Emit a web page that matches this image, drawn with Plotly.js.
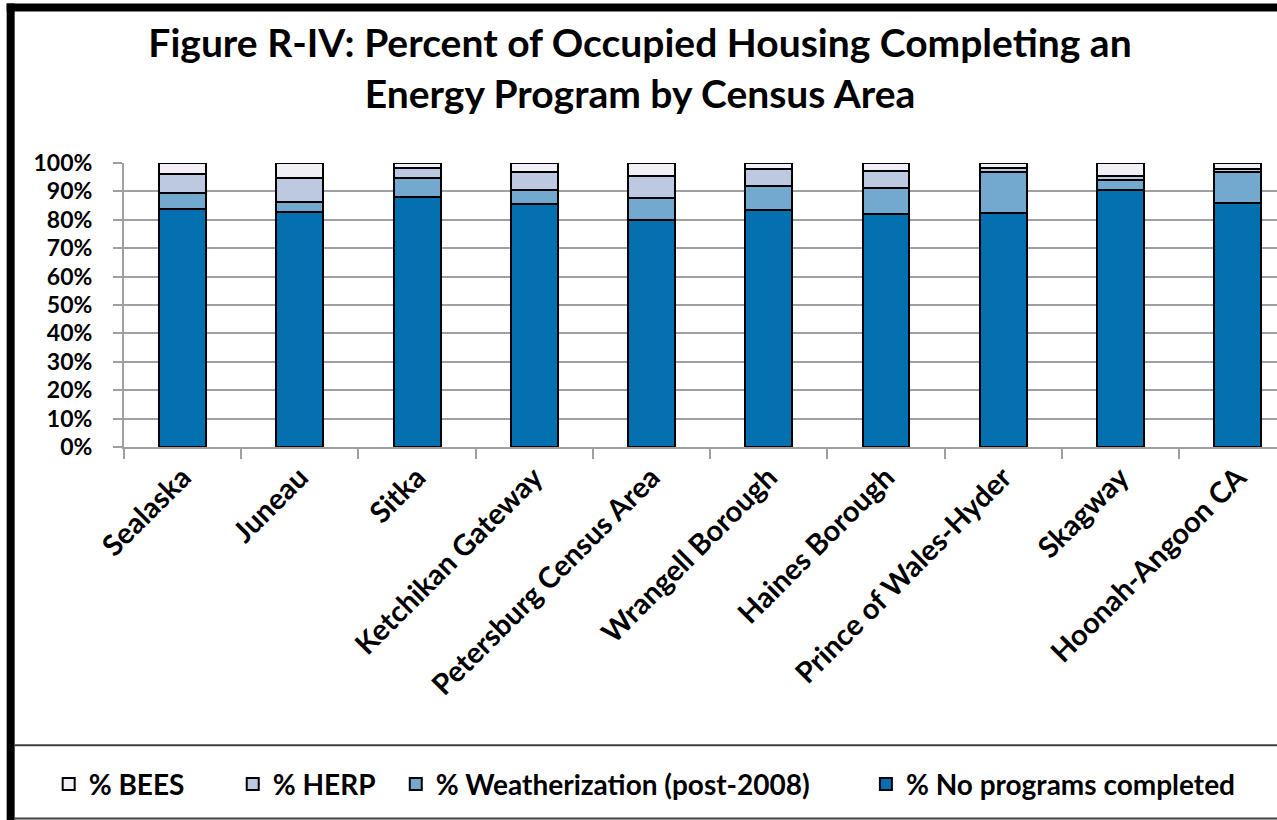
<!DOCTYPE html>
<html>
<head>
<meta charset="utf-8">
<script src="https://cdn.plot.ly/plotly-3.0.1.min.js"></script>
<style>
  html, body { margin: 0; padding: 0; background: #ffffff; }
  #chart { width: 1277px; height: 820px; }
</style>
</head>
<body>
<div id="chart"></div>
<script>
const categories = ["Sealaska", "Juneau", "Sitka", "Ketchikan Gateway", "Petersburg Census Area",
  "Wrangell Borough", "Haines Borough", "Prince of Wales-Hyder", "Skagway", "Hoonah-Angoon CA"];
const noPrograms = [83.7, 82.7, 88.1, 85.7, 79.8, 83.3, 82.1, 82.5, 90.6, 85.9];
const weatherization = [5.9, 3.6, 6.5, 4.8, 7.8, 8.6, 9.0, 14.5, 3.5, 10.9];
const herp = [6.6, 8.3, 3.8, 6.5, 8.0, 6.1, 6.1, 1.2, 1.2, 1.2];
const bees = [3.8, 5.4, 1.6, 3.0, 4.4, 2.0, 2.8, 1.8, 4.7, 2.0];
const yTickVals = [0, 10, 20, 30, 40, 50, 60, 70, 80, 90, 100];
const yTickText = ["0%", "10%", "20%", "30%", "40%", "50%", "60%", "70%", "80%", "90%", "100%"];

const FONT = "Lato, 'Open Sans', sans-serif";
// pixel geometry of the plot area
const W = 1277, H = 820;
const L = 124.3, T = 163.3, B = 447;
const catW = 117.2;
const px2x = p => (p - L) / (W - L);
const py2y = p => (B - p) / (B - T);

function bar(name, vals, color, legendId) {
  return {
    type: "bar", name: name, x: categories, y: vals,
    marker: { color: color, line: { color: "#000000", width: 2 } },
    width: 0.4, legend: legendId,
    hovertemplate: "%{x}: %{y:.1f}%<extra>" + name + "</extra>"
  };
}

const data = [
  bar("% No programs completed", noPrograms, "#0570b0", "legend4"),
  bar("% Weatherization (post-2008)", weatherization, "#74a9cf", "legend3"),
  bar("% HERP", herp, "#bdc9e1", "legend2"),
  bar("% BEES", bees, "#f1eef6", "legend")
];

const legFont = { family: FONT, size: 28, color: "#000000", weight: "bold" };
function leg(pxLeft) {
  return {
    orientation: "h", x: px2x(pxLeft), xanchor: "left", y: py2y(784), yanchor: "middle",
    font: legFont, bgcolor: "rgba(0,0,0,0)", borderwidth: 0, itemwidth: 30
  };
}

const layout = {
  width: W, height: H,
  paper_bgcolor: "#ffffff", plot_bgcolor: "#ffffff",
  margin: { l: L, r: 0, t: T, b: H - B, pad: 0 },
  barmode: "stack",
  title: {
    text: "<b>Figure R-IV: Percent of Occupied Housing Completing an<br>Energy Program by Census Area</b>",
    font: { family: FONT, size: 39, color: "#000000" },
    x: 640 / W, xref: "container", xanchor: "center",
    y: 1 - 57 / H, yref: "container", yanchor: "middle"
  },
  xaxis: {
    type: "category",
    range: [-0.5, -0.5 + (W - L) / catW],
    tickangle: -45,
    tickson: "boundaries",
    ticks: "outside", ticklen: 10, tickwidth: 2, tickcolor: "#a0a0a0",
    showline: true, linecolor: "#a0a0a0", linewidth: 2,
    showgrid: false,
    tickfont: { family: FONT, size: 29, color: "#000000", weight: "bold" },
    fixedrange: true
  },
  yaxis: {
    range: [0, 100],
    tickvals: yTickVals, ticktext: yTickText,
    ticks: "outside", ticklen: 9, tickwidth: 2, tickcolor: "#a0a0a0",
    showline: true, linecolor: "#a0a0a0", linewidth: 2,
    showgrid: true, gridcolor: "#a0a0a0", gridwidth: 2,
    zeroline: false,
    tickfont: { family: FONT, size: 23, color: "#000000", weight: "bold" },
    ticklabelstandoff: 16,
    fixedrange: true
  },
  legend: leg(49),
  legend2: leg(233),
  legend3: leg(396),
  legend4: leg(866),
  showlegend: true,
  shapes: [
    // outer frame: thick left and top border
    { type: "line", xref: "paper", yref: "paper", x0: px2x(11), x1: px2x(11), y0: py2y(4), y1: py2y(820), line: { color: "#000000", width: 8 } },
    { type: "line", xref: "paper", yref: "paper", x0: px2x(7), x1: px2x(1277), y0: py2y(8), y1: py2y(8), line: { color: "#000000", width: 8 } },
    // legend separator and bottom edge
    { type: "line", xref: "paper", yref: "paper", x0: px2x(15), x1: px2x(1277), y0: py2y(745), y1: py2y(745), line: { color: "#404040", width: 2 } },
    { type: "line", xref: "paper", yref: "paper", x0: px2x(15), x1: px2x(1277), y0: py2y(818), y1: py2y(818), line: { color: "#404040", width: 2 } }
  ]
};

Plotly.newPlot("chart", data, layout, { displayModeBar: false, staticPlot: false });
</script>
</body>
</html>
